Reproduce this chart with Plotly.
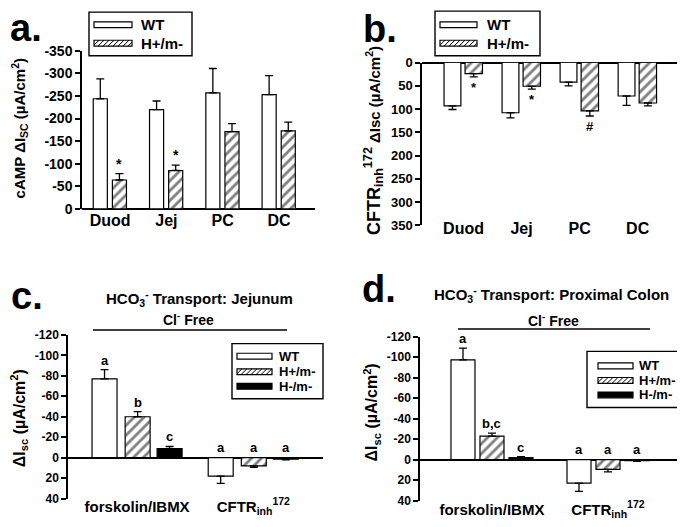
import plotly.graph_objects as go

# the page body adds an 8px margin, so the figure is drawn 8px smaller
# and every position below is given in window pixels
PAGE_OFF = 8
W, H = 685 - PAGE_OFF, 527 - PAGE_OFF
FONT = "Arial, Liberation Sans, sans-serif"

# ---- panel a: cAMP response (µA/cm²), outward error only
regions = ["Duod", "Jej", "PC", "DC"]
camp_wt = [-244, -220, -257, -253]
camp_wt_err = [44, 19, 54, 42]
camp_het = [-64, -85, -171, -173]
camp_het_err = [14, 12, 18, 19]
camp_het_sig = ["*", "*", "", ""]

# ---- panel b: CFTRinh-172 response
inh_wt = [93, 108, 42, 72]
inh_wt_err = [8, 11, 8, 20]
inh_het = [24, 51, 104, 87]
inh_het_err = [7, 6, 11, 6]
inh_het_sig = ["*", "*", "#", ""]

# ---- panels c/d: HCO3- transport, Cl- free
treatments = ["forskolin/IBMX", "CFTR<sub>inh</sub><sup>172</sup>"]
jej_wt = [-77, 18]
jej_wt_err = [9, 7]
jej_het = [-40, 8]
jej_het_err = [5, 1.5]
jej_ko = [-9, 1.3]
jej_ko_err = [2, 0.7]
jej_sig = {"wt": ["a", "a"], "het": ["b", "a"], "ko": ["c", "a"]}

pc_wt = [-97.5, 23]
pc_wt_err = [11.5, 8]
pc_het = [-23, 9.5]
pc_het_err = [3, 2.5]
pc_ko = [-2, 1]
pc_ko_err = [1, 0.6]
pc_sig = {"wt": ["a", "a"], "het": ["b,c", "a"], "ko": ["c", "a"]}

OUTLINE = dict(color="black", width=1.2)
WT_MARKER = dict(color="white", line=OUTLINE)
HET_MARKER = dict(color="white", line=OUTLINE,
                  pattern=dict(shape="/", fgcolor="black", bgcolor="white", size=7, solidity=0.4))
KO_MARKER = dict(color="black", line=OUTLINE)


def px(x):
    return (x - PAGE_OFF) / W


def py(y):
    return 1 - (y - PAGE_OFF) / H


fig = go.Figure()
annotations = []
shapes = []


def add_bars(cats, vals, errs, marker, width, offset, xa, ya):
    plus = [e if v > 0 else 0 for v, e in zip(vals, errs)]
    minus = [e if v < 0 else 0 for v, e in zip(vals, errs)]
    fig.add_trace(go.Bar(
        x=cats, y=vals, width=width, offset=offset, marker=marker,
        error_y=dict(type="data", symmetric=False, array=plus, arrayminus=minus,
                     color="black", thickness=1.3, width=4),
        xaxis=xa, yaxis=ya, showlegend=False, hoverinfo="skip",
    ))


def add_sig(labels, vals, errs, width, offset, xa, ya, size, at_zero_if_pos=False):
    for i, (s, v, e) in enumerate(zip(labels, vals, errs)):
        if not s:
            continue
        xc = i + offset + width / 2
        if v < 0:
            y, anchor, shift = v - e, "bottom", 0
        elif at_zero_if_pos:
            y, anchor, shift = 0, "bottom", 1
        else:
            y, anchor, shift = v + e, "top", -1
        annotations.append(dict(x=xc, y=y, xref=xa, yref=ya, text=s, showarrow=False,
                                yanchor=anchor, yshift=shift,
                                font=dict(size=size, color="black", family=FONT, weight="bold")))


# panel a
add_bars(regions, camp_wt, camp_wt_err, WT_MARKER, 0.25, -0.30, "x", "y")
add_bars(regions, camp_het, camp_het_err, HET_MARKER, 0.25, 0.04, "x", "y")
add_sig(camp_het_sig, camp_het, camp_het_err, 0.25, 0.04, "x", "y", 14)

# panel b
add_bars(regions, inh_wt, inh_wt_err, WT_MARKER, 0.29, -0.336, "x2", "y2")
add_bars(regions, inh_het, inh_het_err, HET_MARKER, 0.30, 0.026, "x2", "y2")
add_sig(inh_het_sig, inh_het, inh_het_err, 0.30, 0.026, "x2", "y2", 13)

# panel c
for vals, errs, mk, off, key in [(jej_wt, jej_wt_err, WT_MARKER, -0.388, "wt"),
                                 (jej_het, jej_het_err, HET_MARKER, -0.103, "het"),
                                 (jej_ko, jej_ko_err, KO_MARKER, 0.172, "ko")]:
    add_bars(treatments, vals, errs, mk, 0.215, off, "x3", "y3")
    add_sig(jej_sig[key], vals, errs, 0.215, off, "x3", "y3", 13, at_zero_if_pos=True)

# panel d
for vals, errs, mk, off, key in [(pc_wt, pc_wt_err, WT_MARKER, -0.353, "wt"),
                                 (pc_het, pc_het_err, HET_MARKER, -0.103, "het"),
                                 (pc_ko, pc_ko_err, KO_MARKER, 0.147, "ko")]:
    add_bars(treatments, vals, errs, mk, 0.207, off, "x4", "y4")
    add_sig(pc_sig[key], vals, errs, 0.207, off, "x4", "y4", 13, at_zero_if_pos=True)


def xaxis(left, right, rng, anchor, size, standoff=0):
    return dict(domain=[px(left), px(right)], range=rng, type="category", anchor=anchor,
                showline=False, ticks="", showgrid=False, zeroline=False,
                ticklabelstandoff=standoff,
                tickfont=dict(family=FONT, size=size, color="black", weight="bold"))


def yaxis(top, bottom, rng, ticks, anchor, size):
    return dict(domain=[py(bottom), py(top)], range=rng, anchor=anchor,
                tickvals=ticks, ticktext=[str(t) for t in ticks],
                ticks="outside", ticklen=5, tickwidth=1.5, tickcolor="black",
                showline=True, linecolor="black", linewidth=1.5, showgrid=False,
                zeroline=True, zerolinecolor="black", zerolinewidth=1.5,
                tickfont=dict(family=FONT, size=size, color="black", weight="bold"))


def legend_box(box, sx0, sx1, text_x, items, size):
    x0, y0, x1, y1 = box
    shapes.append(dict(type="rect", xref="paper", yref="paper", x0=px(x0), x1=px(x1),
                       y0=py(y1), y1=py(y0), line=dict(color="black", width=1.4)))
    for (top, bot), kind, label in items:
        fill = "black" if kind == "ko" else "white"
        shapes.append(dict(type="rect", xref="paper", yref="paper", x0=px(sx0), x1=px(sx1),
                           y0=py(bot), y1=py(top), fillcolor=fill, line=dict(color="black", width=1.2)))
        if kind == "het":
            h = bot - top
            segs = []
            xa = sx0 - h
            while xa < sx1:
                t0 = max(0, (sx0 - xa) / h)
                t1 = min(1, (sx1 - xa) / h)
                if t1 > t0:
                    segs.append("M%.5f,%.5f L%.5f,%.5f" % (px(xa + t0 * h), py(bot - t0 * h),
                                                         px(xa + t1 * h), py(bot - t1 * h)))
                xa += 5
            shapes.append(dict(type="path", xref="paper", yref="paper", path=" ".join(segs),
                               line=dict(color="black", width=1)))
        annotations.append(dict(x=px(text_x), y=py((top + bot) / 2), xref="paper", yref="paper",
                                text=label, showarrow=False, xanchor="left", yanchor="middle",
                                font=dict(family=FONT, size=size, color="black", weight="bold")))


legend_box((89, 4, 192, 49), 94, 132, 139,
           [((14, 20), "wt", "WT"), ((33, 39), "het", "H+/m-")], 15)
legend_box((435, 3, 540, 49), 440, 477, 485,
           [((14, 20), "wt", "WT"), ((33, 39), "het", "H+/m-")], 15)
legend_box((232, 346, 323, 403), 237, 272, 277,
           [((356, 362), "wt", "WT"), ((372, 378), "het", "H+/m-"), ((387, 393), "ko", "H-/m-")], 13)
legend_box((587, 354, 683, 412), 598, 633, 637,
           [((366, 372), "wt", "WT"), ((381, 387), "het", "H+/m-"), ((396, 402), "ko", "H-/m-")], 13)

# "Cl- Free" bars
shapes.append(dict(type="line", xref="paper", yref="paper", x0=px(93), x1=px(287),
                   y0=py(332), y1=py(332), line=dict(color="black", width=1.5)))
shapes.append(dict(type="line", xref="paper", yref="paper", x0=px(458), x1=px(650),
                   y0=py(331), y1=py(331), line=dict(color="black", width=1.5)))


def text(x, y, s, size, xanchor="center", angle=0):
    annotations.append(dict(x=px(x), y=py(y), xref="paper", yref="paper", text=s,
                            showarrow=False, xanchor=xanchor, yanchor="middle", textangle=angle,
                            font=dict(family=FONT, size=size, color="black", weight="bold")))


# panel letters
text(8, 20, "a.", 38, "left")
text(361, 21, "b.", 38, "left")
text(9, 297, "c.", 38, "left")
text(360, 290, "d.", 38, "left")

# titles
text(199, 299, "HCO<sub>3</sub><sup>-</sup> Transport: Jejunum", 15)
text(188, 321, "Cl<sup>-</sup> Free", 14)
text(551, 295, "HCO<sub>3</sub><sup>-</sup> Transport: Proximal Colon", 15)
text(553, 322, "Cl<sup>-</sup> Free", 14)

# y-axis titles
text(19, 124, "cAMP ΔI<sub>SC</sub> (µA/cm<sup>2</sup>)", 15, angle=-90)
text(373, 137, "<span style='font-size:18px'>CFTR<sub>inh</sub><sup>172</sup></span> ΔIsc (µA/cm<sup>2</sup>)",
     15, angle=-90)
text(19, 423, "ΔI<sub>sc</sub> (µA/cm<sup>2</sup>)", 16, angle=-90)
text(372, 417, "ΔI<sub>sc</sub> (µA/cm<sup>2</sup>)", 16, angle=-90)

fig.update_layout(
    width=W, height=H,
    margin=dict(l=0, r=0, t=0, b=0),
    paper_bgcolor="white", plot_bgcolor="white",
    font=dict(family=FONT, color="black"),
    barmode="overlay",
    showlegend=False,
    xaxis=xaxis(82, 315, [-0.5, 3.64], "y", 16),
    yaxis=yaxis(44, 207, [0, -350], list(range(0, -351, -50)), "x", 14),
    xaxis2=xaxis(422, 680, [-0.716, 3.73], "y2", 16, standoff=-8),
    yaxis2=yaxis(56, 224, [350, 0], list(range(0, 351, 50)), "x2", 13),
    xaxis3=xaxis(68, 323, [-0.595, 1.60], "y3", 15, standoff=-3),
    yaxis3=yaxis(337, 506, [40, -120], list(range(-120, 41, 20)), "x3", 12),
    xaxis4=xaxis(420, 683, [-0.62, 1.647], "y4", 15, standoff=-2),
    yaxis4=yaxis(339, 508, [40, -120], list(range(-120, 41, 20)), "x4", 12),
    annotations=annotations,
    shapes=shapes,
)

fig.write_html("out.html", config={"displayModeBar": False})
